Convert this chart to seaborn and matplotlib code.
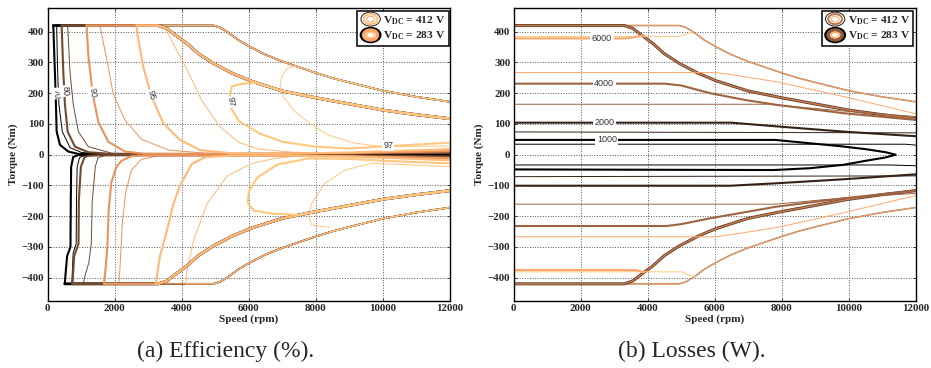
import numpy as np
import matplotlib
matplotlib.use('Agg')
import matplotlib.pyplot as plt
import seaborn as sns
from matplotlib.legend_handler import HandlerBase
from matplotlib.patches import Ellipse
from matplotlib.lines import Line2D

# ---------------------------------------------------------------- data
# torque envelope (max torque, Nm) vs speed (rpm), mirrored for braking
ENV_RPM_283 = [0, 3300, 3550, 3800, 4150, 4500, 4940, 5500, 6050, 7000, 8000, 9000, 10000, 11000, 12000]
ENV_NM_283 = [420, 420, 411, 390, 362, 328, 297, 265, 240, 207, 185, 165, 145, 130, 117]
ENV_RPM_412 = [0, 4950, 5150, 5350, 5700, 6050, 6500, 7000, 8000, 8500, 9000, 10000, 11000, 12000]
ENV_NM_412 = [420, 420, 413, 400, 372, 350, 325, 303, 266, 249, 235, 208, 188, 172]

# efficiency contours (%), (rpm, Nm)
EFF_LEVELS = [70, 80, 90, 95, 97]

E283_70_UP = [(168, 420), (198, 324), (238, 199), (268, 75), (367, 32), (616, 10), (914, 2.5), (2000, 1), (6000, 1), (9000, 2), (12000, 3)]
E283_80_UP = [(417, 420), (466, 270), (516, 162), (596, 75), (814, 26), (1212, 8), (1908, 2.5), (5000, 2), (9000, 3.5), (12000, 6)]
E283_90_UP = [(1162, 420), (1212, 324), (1341, 199), (1510, 107), (1809, 42), (2306, 10), (2902, 3), (6000, 3), (9000, 5), (12000, 11)]
E283_95_UP = [(2650, 420), (2680, 390), (2850, 286), (3100, 189), (3450, 102), (3950, 48), (4540, 15), (5540, 4), (7000, 3), (9000, 7), (12000, 18)]
E283_97_UP = [(6250, 234), (5750, 230), (5500, 222), (5430, 195), (5480, 150), (5700, 110), (6300, 70), (7000, 42), (8000, 26), (9000, 20), (10200, 28), (12000, 39)]

E412_70_UP = [(268, 420), (297, 270), (337, 162), (437, 75), (665, 23), (1013, 7), (1610, 2.5), (6000, 1.5), (9000, 2), (12000, 2)]
E412_80_UP = [(596, 420), (665, 270), (765, 162), (914, 75), (1212, 26), (1908, 5), (3000, 2.5), (6000, 2.5), (12000, 5)]
E412_90_UP = [(1560, 420), (1650, 370), (1800, 290), (1950, 200), (2300, 113), (2800, 50), (3600, 15), (4700, 5), (8000, 4), (12000, 9)]
E412_95_UP = [(3450, 420), (3650, 380), (4100, 290), (4600, 175), (5150, 90), (5700, 40), (6300, 18), (7300, 8), (8500, 5), (12000, 14)]
E412_97_UP = [(7400, 287), (7150, 281), (6980, 255), (6930, 225), (7050, 185), (7380, 140), (7900, 95), (8370, 64), (9170, 37), (10000, 26), (12000, 28)]

E283_70_DN = [(12000, -3), (9000, -2), (5000, -1), (1500, -1), (900, -1.5), (760, -8), (700, -40), (690, -150), (680, -300), (580, -330), (540, -380), (510, -420)]
E283_80_DN = [(12000, -6), (9000, -3), (5000, -2), (1500, -2), (1200, -4), (1100, -8), (990, -40), (930, -150), (920, -290), (790, -330), (740, -420)]
E283_90_DN = [(12000, -11), (9000, -5), (6000, -3), (3000, -2), (2500, -5), (2200, -20), (2050, -40), (1900, -90), (1820, -180), (1780, -300), (1720, -380), (1680, -420)]
E283_95_DN = [(12000, -18), (9000, -6), (7000, -3), (5500, -3), (4700, -8), (4300, -30), (3950, -100), (3750, -160), (3550, -250), (3350, -330), (3250, -400), (3230, -420)]
E283_97_DN = [(12000, -28), (10500, -22), (9000, -14), (7800, -12), (6850, -32), (6250, -75), (6000, -120), (5970, -158), (6150, -182), (6700, -192), (7350, -195)]

E412_70_DN = [(12000, -2), (6000, -1.5), (1500, -1.5), (1100, -2), (950, -10), (880, -40), (860, -150), (850, -290), (760, -320), (720, -420)]
E412_80_DN = [(12000, -5), (6000, -2.5), (2200, -2), (1700, -3), (1500, -10), (1420, -40), (1330, -150), (1300, -290), (1230, -350), (1100, -400), (1060, -420)]
E412_90_DN = [(12000, -9), (8000, -4), (4500, -3), (3300, -4), (2800, -15), (2500, -50), (2330, -120), (2230, -220), (2180, -320), (2150, -380), (2120, -420)]
E412_95_DN = [(12000, -14), (9000, -5), (7500, -4), (6800, -12), (6100, -28), (5350, -70), (4750, -160), (4350, -280), (4150, -380), (4120, -420)]
E412_97_DN = [(12000, -39), (10500, -32), (9665, -28), (8870, -50), (8270, -93), (7880, -158), (7780, -201), (7880, -229), (8420, -236)]

# loss contours (W)
LOSS_LEVELS = [1000, 2000, 4000, 6000, 7000]

L283_1000 = [(0, 48), (7800, 48), (8850, 37), (9800, 27), (10500, 18), (11100, 8), (11400, 0), (11100, -9), (10500, -20), (9840, -33), (8850, -44), (7760, -50), (0, -48)]
L283_2000_UP = [(0, 104), (6500, 104), (7850, 92), (9840, 75), (12000, 60)]
L283_2000_DN = [(0, -101), (6470, -101), (7850, -93), (9840, -80), (12000, -64)]
L283_4000_UP = [(0, 231), (4500, 231), (5000, 225), (5860, 200), (6900, 178), (7850, 162), (9840, 135), (12000, 113)]
L283_4000_DN = [(0, -232), (4560, -232), (5000, -226), (5860, -207), (7850, -169), (9840, -142), (12000, -117)]
L283_6000_UP = [(0, 378), (3300, 378), (3600, 382), (3850, 388)]
L283_6000_DN = [(0, -375), (3300, -375), (3650, -376), (3900, -382)]

L412_1000_UP = [(0, 34), (11700, 34), (12000, 31)]
L412_1000_DN = [(0, -33.5), (11200, -33.5), (12000, -36)]
L412_2000_UP = [(0, 74), (12000, 71)]
L412_2000_DN = [(0, -71.5), (12000, -69)]
L412_4000_UP = [(0, 164), (7600, 164), (9000, 150), (10500, 136), (12000, 124)]
L412_4000_DN = [(0, -161), (7800, -161), (9200, -147), (10600, -135), (12000, -126)]
L412_6000_UP = [(0, 267), (6050, 267), (6800, 255), (7850, 237), (9840, 189), (12000, 133)]
L412_6000_DN = [(0, -267), (6050, -267), (6800, -255), (7850, -237), (9840, -189), (12000, -133)]
L412_7000_UP = [(0, 384), (4950, 384), (5150, 392), (5350, 400)]
L412_7000_DN = [(0, -381), (5000, -381), (5250, -392), (5400, -396)]

# contour label positions (rpm, Nm, text, rotation)
EFF_LABELS = [(268, 199, '70', -88), (516, 207, '80', -88), (1341, 203, '90', -84),
              (3081, 194, '95', -74), (5470, 172, '97', -82), (10160, 29, '97', 0)]
LOSS_LABELS = [(2630, 379, '6000'), (2700, 231, '4000'), (2700, 104, '2000'), (2780, 48, '1000')]

# ---------------------------------------------------------------- style
sns.set_theme(style='ticks')
plt.rcParams.update({
    'font.family': ['Liberation Serif', 'DejaVu Serif'],
    'font.weight': 'bold',
    'mathtext.fontset': 'custom',
    'mathtext.rm': 'Liberation Serif:bold',
    'mathtext.bf': 'Liberation Serif:bold',
    'mathtext.it': 'Liberation Serif:bold:italic',
    'axes.unicode_minus': True,
    'axes.linewidth': 1.0,
    'xtick.labelsize': 7.8,
    'ytick.labelsize': 7.8,
})

copper = plt.get_cmap('copper')


def eff_color(level):
    return copper((level - 70) / 27)


def loss_color(level):
    return copper((level - 1000) / 6000)


def draw(ax, x, y, color, lw):
    sns.lineplot(x=np.asarray(x, float), y=np.asarray(y, float), sort=False, estimator=None,
                 color=color, lw=lw, ax=ax, legend=False)


def draw_pts(ax, pts, color, lw):
    arr = np.asarray(pts, float)
    draw(ax, arr[:, 0], arr[:, 1], color, lw)


def envelope_from(rpm0, env_rpm, env_nm, sign):
    rpm = np.asarray(env_rpm, float)
    nm = np.asarray(env_nm, float)
    keep = rpm > rpm0
    xs = np.concatenate([[rpm0], rpm[keep]])
    ys = np.concatenate([[np.interp(rpm0, rpm, nm)], nm[keep]]) * sign
    return xs, ys


class RingHandler(HandlerBase):
    def __init__(self, rings):
        super().__init__()
        self.rings = rings

    def create_artists(self, legend, orig_handle, xdescent, ydescent, width, height, fontsize, trans):
        cx = 0.5 * width - xdescent
        cy = 0.5 * height - ydescent
        arts = []
        for k, (scale, col, lw) in enumerate(self.rings):
            arts.append(Ellipse((cx, cy), width * scale, height * 1.75 * scale,
                                facecolor='white' if k == 0 else 'none', edgecolor=col,
                                linewidth=lw, transform=trans))
        return arts


def add_legend(ax, rings_412, rings_283, anchor_x):
    h412 = Line2D([], [])
    h283 = Line2D([], [])
    leg = ax.legend([h412, h283],
                    [r'$\mathbf{V}_{\mathbf{DC}}$ = 412 V', r'$\mathbf{V}_{\mathbf{DC}}$ = 283 V'],
                    handler_map={h412: RingHandler(rings_412), h283: RingHandler(rings_283)},
                    loc='upper right', bbox_to_anchor=(anchor_x, 0.992), borderaxespad=0,
                    fancybox=False, framealpha=1, edgecolor='black', handlelength=1.7,
                    handletextpad=0.25, labelspacing=0.3, borderpad=0.3,
                    prop={'family': 'Liberation Serif', 'weight': 'bold', 'size': 8.2})
    leg.get_frame().set_linewidth(1.1)
    leg.set_zorder(10)


def style_axes(ax):
    ax.set_xlim(0, 12000)
    ax.set_ylim(-476, 476)
    ax.set_xticks(range(0, 12001, 2000))
    ax.set_yticks(range(-400, 401, 100))
    ax.grid(True, ls=':', color='#555555', lw=0.7)
    ax.set_axisbelow(True)
    ax.tick_params(direction='in', length=2.5, width=0.6, top=True, right=True, pad=2.5)
    for lab in ax.get_xticklabels() + ax.get_yticklabels():
        lab.set_fontweight('bold')
    ax.set_xlabel('Speed (rpm)', fontsize=8, fontweight='bold', labelpad=1)
    ax.set_ylabel('Torque (Nm)', fontsize=8, fontweight='bold', labelpad=3)
    for sp in ax.spines.values():
        sp.set_color('black')


fig = plt.figure(figsize=(9.31, 3.68), dpi=100)
ax_eff = fig.add_axes([0.0512, 0.182, 0.4321, 0.7954])
ax_loss = fig.add_axes([0.5518, 0.182, 0.4318, 0.7954])

# ---------------------------------------------------------------- efficiency map
eff_sets = [
    ('412', 0.7, ENV_RPM_412, ENV_NM_412,
     {70: E412_70_UP, 80: E412_80_UP, 90: E412_90_UP, 95: E412_95_UP, 97: E412_97_UP},
     {70: E412_70_DN, 80: E412_80_DN, 90: E412_90_DN, 95: E412_95_DN, 97: E412_97_DN}),
    ('283', 1.5, ENV_RPM_283, ENV_NM_283,
     {70: E283_70_UP, 80: E283_80_UP, 90: E283_90_UP, 95: E283_95_UP, 97: E283_97_UP},
     {70: E283_70_DN, 80: E283_80_DN, 90: E283_90_DN, 95: E283_95_DN, 97: E283_97_DN}),
]
for name, lw, env_rpm, env_nm, ups, dns in eff_sets:
    for i, level in enumerate(EFF_LEVELS):
        col = eff_color(level)
        for pts, sign in [(ups[level], 1), (dns[level], -1)]:
            arr = np.asarray(pts, float)
            join = arr[np.argmax(np.abs(arr[:, 1])), 0]
            ex, ey = envelope_from(join, env_rpm, env_nm, sign)
            draw(ax_eff, ex, ey, col, lw + 0.14 * (len(EFF_LEVELS) - 1 - i))
            draw_pts(ax_eff, pts, col, lw)

for x, y, txt, rot in EFF_LABELS:
    ax_eff.text(x, y, txt, rotation=rot, ha='center', va='center', fontsize=6.5,
                family='Liberation Sans', fontweight='normal', color='#333333', zorder=5,
                bbox=dict(fc='white', ec='none', pad=0.6))

style_axes(ax_eff)
add_legend(ax_eff,
           [(1.0, 'black', 0.6), (0.72, copper(0.95), 1.4), (0.4, copper(0.85), 0.8)],
           [(1.0, 'black', 1.8), (0.72, copper(0.82), 2.4), (0.4, copper(0.95), 1.0)],
           0.997)

# ---------------------------------------------------------------- loss map
for sign in (1, -1):
    ex, ey = envelope_from(0, ENV_RPM_412, ENV_NM_412, sign)
    draw(ax_loss, ex, ey, copper(0.55), 1.1)
    draw(ax_loss, ex, ey, copper(0.88), 0.5)
for sign in (1, -1):
    ex, ey = envelope_from(0, ENV_RPM_283, ENV_NM_283, sign)
    draw(ax_loss, ex, ey, copper(0.3), 2.2)
    draw(ax_loss, ex, ey, copper(0.62), 1.1)

loss_thin = [(7000, L412_7000_UP), (7000, L412_7000_DN), (6000, L412_6000_UP), (6000, L412_6000_DN),
             (4000, L412_4000_UP), (4000, L412_4000_DN), (2000, L412_2000_UP), (2000, L412_2000_DN),
             (1000, L412_1000_UP), (1000, L412_1000_DN)]
loss_thick = [(6000, L283_6000_UP), (6000, L283_6000_DN), (4000, L283_4000_UP), (4000, L283_4000_DN),
              (2000, L283_2000_UP), (2000, L283_2000_DN), (1000, L283_1000)]
for level, pts in loss_thin:
    draw_pts(ax_loss, pts, loss_color(level), 0.7)
for level, pts in loss_thick:
    draw_pts(ax_loss, pts, loss_color(level), 1.5)

for x, y, txt in LOSS_LABELS:
    ax_loss.text(x, y, txt, ha='center', va='center', fontsize=6.5, family='Liberation Sans',
                 fontweight='normal', color='#333333', zorder=5,
                 bbox=dict(fc='white', ec='none', pad=1.2))

style_axes(ax_loss)
add_legend(ax_loss,
           [(1.0, 'black', 0.6), (0.72, copper(0.6), 1.4), (0.4, copper(0.95), 0.9)],
           [(1.0, 'black', 1.8), (0.72, copper(0.45), 2.4), (0.4, copper(0.9), 1.2)],
           0.994)

# ---------------------------------------------------------------- captions
fig.text(0.2423, 0.045, '(a) Efficiency (%).', ha='center', va='center', fontsize=17,
         fontweight='normal', family='Liberation Serif')
fig.text(0.7433, 0.045, '(b) Losses (W).', ha='center', va='center', fontsize=17,
         fontweight='normal', family='Liberation Serif')

fig.savefig('out.png', dpi=100)
plt.close(fig)
